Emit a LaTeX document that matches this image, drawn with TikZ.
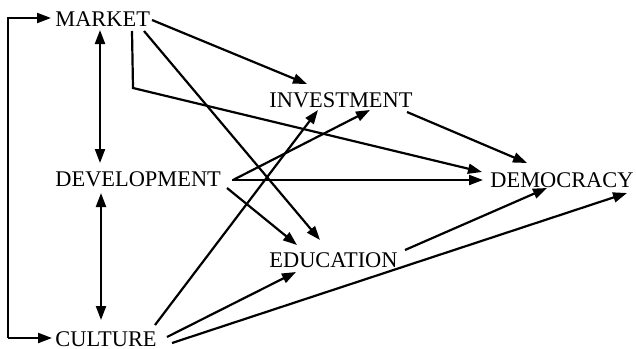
\documentclass[tikz,border=0pt]{standalone}
\usepackage{fontspec}
\setmainfont{Liberation Serif}
\usetikzlibrary{arrows.meta,calc}
\begin{document}
\begin{tikzpicture}[x=0.5pt,y=-0.5pt,
  lbl/.style={inner sep=0pt,anchor=base west,font=\fontsize{11.2}{12}\selectfont},
  arr/.style={line width=1.1pt,-{Triangle[length=7pt,width=5pt]}},
  darr/.style={line width=1.1pt,{Triangle[length=7pt,width=5pt]}-{Triangle[length=7pt,width=5pt]}}]
\useasboundingbox (0,0) rectangle (636,348);
\node[lbl] (mk) at (55,26) {MARKET};
\node[lbl] (inv) at (269,107) {INVESTMENT};
\node[lbl] (dev) at (55,186) {DEVELOPMENT};
\node[lbl] (dem) at (490,187) {DEMOCRACY};
\node[lbl] (edu) at (269,267) {EDUCATION};
\node[lbl] (cul) at (55,346) {CULTURE};
% bracket
\coordinate (bt) at ($(mk.base west)+(-47,-8)$);
\coordinate (bb) at ($(cul.base west)+(-47,-8)$);
\draw[arr] (bb) -- (bt) -- ($(mk.base west)+(-4,-8)$);
\draw[arr] (bb) -- ($(cul.base west)+(-3,-8)$);
% double arrows
\draw[darr] ($(mk.base west)+(45,4)$) -- ($(dev.base west)+(45,-23)$);
\draw[darr] ($(dev.base west)+(46,7)$) -- ($(cul.base west)+(46,-26)$);
% market
\draw[arr] ($(mk.base west)+(97,-6)$) -- ($(inv.base west)+(38,-23)$);
\draw[arr] ($(mk.base west)+(77,5)$) -- ($(mk.base west)+(78,62)$) -- ($(dem.base west)+(-8,-15)$);
\draw[arr] ($(mk.base west)+(89,5)$) -- ($(edu.base west)+(51,-27)$);
% investment
\draw[arr] ($(inv.base west)+(138,5)$) -- ($(dem.base west)+(37,-24)$);
% development
\draw[arr] ($(dev.base west)+(177,-6)$) -- ($(dem.base west)+(-7,-7)$);
\draw[arr] ($(dev.base west)+(178,-6)$) -- ($(inv.base west)+(101,3)$);
\draw[arr] ($(dev.base west)+(172,2)$) -- ($(edu.base west)+(28,-22)$);
% culture
\draw[arr] ($(cul.base west)+(100,-21)$) -- ($(inv.base west)+(49,3)$);
\draw[arr] ($(cul.base west)+(112,-9)$) -- ($(edu.base west)+(27,5)$);
\draw[arr] ($(cul.base west)+(117,-3)$) -- ($(dem.base west)+(137,6)$);
% education
\draw[arr] ($(edu.base west)+(136,-17)$) -- ($(dem.base west)+(57,1)$);
\end{tikzpicture}
\end{document}
